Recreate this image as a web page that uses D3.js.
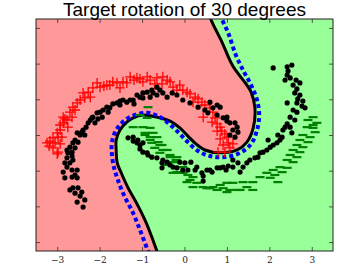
<!DOCTYPE html>
<html>
<head>
<meta charset="utf-8">
<script src="https://cdn.jsdelivr.net/npm/d3@7"></script>
<style>
  body { margin: 0; background: #fff; }
  svg { display: block; }
</style>
</head>
<body>
<svg id="chart" width="359" height="272"></svg>
<script>
// tick values
const xTicks = [-3, -2, -1, 0, 1, 2, 3];
const yTicks = [-3, -2, -1, 0, 1, 2, 3];

// source class +1 (red crosses)
const sourcePos = [
  [-3.24,-0.22],[-3.17,-0.17],[-3.10,-0.08],[-3.05,-0.22],[-3.00,0.06],[-2.93,0.14],[-2.98,-0.06],
  [-3.19,-0.31],[-3.10,-0.36],[-2.98,-0.48],[-3.00,-0.53],[-2.93,-0.25],[-2.89,-0.06],[-2.93,0.28],
  [-2.86,0.34],[-2.82,0.45],[-2.77,0.42],[-2.86,0.50],[-2.75,0.22],[-2.70,0.64],[-2.65,0.50],
  [-2.63,0.78],[-2.58,0.70],[-2.53,0.90],[-2.46,0.98],[-2.39,1.18],[-2.35,1.04],[-2.27,1.20],
  [-2.22,1.06],[-2.16,1.32],[-2.06,1.46],[-1.99,1.34],[-1.90,1.37],[-1.83,1.40],[-1.76,1.40],
  [-1.69,1.49],[-1.59,1.46],[-1.52,1.32],[-1.45,1.49],[-1.36,1.46],[-1.28,1.63],[-1.19,1.54],
  [-1.12,1.60],[-1.05,1.57],[-0.98,1.49],[-0.88,1.63],[-0.81,1.54],[-0.70,1.43],[-0.65,1.60],
  [-0.53,1.43],[-0.51,1.63],[-0.41,1.54],[-0.34,1.49],[-0.27,1.34],[-0.18,1.26],[-0.11,1.40],
  [-0.04,1.26],[0.06,1.20],[0.13,1.15],[0.20,0.92],[0.25,1.06],[0.32,1.01],[0.41,0.92],
  [0.48,0.84],[0.60,0.76],[0.67,0.64],[0.44,0.50],[0.72,0.48],[0.65,0.36],[0.77,0.31],
  [0.84,0.22],[0.88,0.11],[0.77,0.11],[0.95,0.03],[1.00,-0.06],[0.84,-0.11],[1.03,-0.22],
  [0.91,-0.28],[1.07,-0.36],[0.95,-0.48],[1.14,-0.25],[0.79,-0.48]
];

// source class -1 (green dashes)
const sourceNeg = [
  [-0.86,0.78],[-1.05,0.56],[-0.88,0.48],[-1.21,0.22],[-0.98,0.22],[-0.81,0.20],[-0.93,0.06],
  [-0.74,0.06],[-0.93,0.00],[-0.81,-0.06],[-0.65,-0.06],[-0.81,-0.14],[-0.62,-0.20],[-0.77,-0.22],
  [-0.58,-0.28],[-0.53,-0.28],[-0.70,-0.36],[-0.51,-0.42],[-0.41,-0.42],[-0.58,-0.50],[-0.34,-0.56],
  [-0.34,-0.62],[-0.18,-0.62],[-0.20,-0.70],[-0.27,-0.76],[-0.34,-0.76],[-0.04,-0.90],[-0.41,-0.84],
  [-0.27,-1.06],[-0.18,-1.04],[-0.11,-1.06],[-0.04,-1.06],[0.08,-1.12],[0.20,-1.18],[0.13,-1.26],
  [0.06,-1.32],[0.29,-1.34],[0.20,-1.46],[0.44,-1.46],[0.53,-1.49],[0.60,-1.49],[0.77,-1.54],
  [0.67,-1.46],[0.84,-1.40],[0.91,-1.49],[1.00,-1.34],[1.00,-1.60],[1.07,-1.54],[1.14,-1.34],
  [1.24,-1.54],[1.31,-1.54],[1.38,-1.32],[1.47,-1.46],[1.61,-1.32],[1.61,-1.54],[1.78,-1.18],
  [1.94,-1.06],[2.02,-1.20],[2.09,-0.98],[2.13,-1.12],[2.20,-1.32],[2.25,-0.90],[2.30,-1.04],
  [2.42,-0.92],[2.42,-0.70],[2.56,-0.76],[2.49,-0.56],[2.65,-0.62],[2.56,-0.42],[2.72,-0.48],
  [2.65,-0.28],[2.79,-0.34],[2.72,-0.14],[2.91,-0.20],[2.79,0.00],[2.96,-0.06],[3.03,0.20],
  [2.89,0.22],[3.08,0.08],[3.03,0.28],[3.12,0.34],[2.91,0.42],[3.03,0.50]
];

// target samples, rotated by 30 degrees (black dots)
const targetPts = [
  [-2.39,-2.02],[-2.53,-1.88],[-2.35,-1.82],[-2.46,-1.71],[-2.58,-1.63],[-2.42,-1.60],[-2.70,-1.54],
  [-2.63,-1.48],[-2.51,-1.48],[-2.82,-1.20],[-2.65,-1.18],[-2.53,-1.20],[-2.58,-1.12],[-2.65,-0.98],
  [-2.53,-0.98],[-2.77,-0.90],[-2.86,-1.04],[-2.82,-0.78],[-2.70,-0.78],[-2.63,-0.70],[-2.77,-0.64],
  [-2.65,-0.59],[-2.75,-0.50],[-2.77,-0.42],[-2.65,-0.48],[-2.70,-0.34],[-2.58,-0.36],[-2.63,-0.22],
  [-2.51,-0.20],[-2.58,-0.14],[-2.46,0.00],[-2.35,0.00],[-2.53,0.06],[-2.42,0.08],[-2.39,0.14],
  [-2.32,0.22],[-2.27,0.34],[-2.22,0.42],[-2.18,0.48],[-2.11,0.34],[-2.16,0.50],[-2.04,0.45],
  [-2.06,0.62],[-1.99,0.64],[-1.94,0.50],[-1.92,0.70],[-1.83,0.78],[-1.80,0.64],[-1.76,0.76],
  [-1.69,0.87],[-1.59,0.90],[-1.52,0.84],[-1.52,0.95],[-1.45,0.98],[-1.36,0.92],[-1.28,0.98],
  [-1.21,0.98],[-1.19,0.87],[-1.12,1.12],[-1.05,1.06],[-0.98,1.18],[-0.98,1.04],[-0.88,1.20],
  [-0.81,1.06],[-0.77,1.26],[-0.74,1.18],[-0.65,1.34],[-0.65,1.12],[-0.58,1.26],[-0.51,1.18],
  [-0.41,1.06],[-0.29,1.18],[-0.18,1.12],[-0.04,0.98],[0.13,0.90],[0.32,0.78],[0.48,0.70],
  [0.55,0.62],[0.67,0.76],[0.60,0.92],[0.77,0.84],[0.77,0.56],[0.84,0.78],[0.91,0.48],
  [1.00,0.50],[1.00,0.39],[1.07,0.34],[1.19,0.34],[1.24,0.22],[1.14,0.14],[1.26,0.08],
  [1.19,-0.06],[1.07,0.00],
  [-1.33,-0.08],[-1.21,-0.06],[-1.21,-0.17],[-1.12,-0.22],[-1.10,-0.14],[-1.05,-0.28],[-0.98,-0.22],
  [-1.05,-0.39],[-0.98,-0.48],[-0.88,-0.50],[-0.86,-0.56],[-0.77,-0.62],[-0.65,-0.64],[-0.53,-0.78],
  [-0.51,-0.70],[-0.53,-0.92],[-0.41,-0.76],[-0.34,-0.84],[-0.27,-0.90],[-0.18,-0.92],[-0.11,-0.76],
  [0.01,-0.78],[-0.04,-0.98],[0.08,-0.98],[0.15,-0.76],[0.25,-0.98],[0.29,-0.90],[0.41,-1.06],
  [0.44,-1.29],[0.44,-1.15],[0.53,-0.98],[0.60,-0.98],[0.65,-1.04],[0.77,-0.92],[0.84,-0.92],
  [0.91,-0.90],[0.98,-0.98],[1.03,-0.87],[1.14,-0.70],[1.14,-0.90],[1.26,-0.78],[1.31,-1.04],
  [1.38,-0.90],[1.47,-0.78],[1.54,-0.70],[1.66,-0.64],[1.73,-0.62],[1.78,-0.50],[1.85,-0.48],
  [1.94,-0.42],[1.97,-0.14],[2.02,-0.34],[2.09,-0.28],[2.18,-0.22],[2.25,-0.14],[2.30,-0.06],
  [2.32,0.14],[2.42,0.31],[2.49,0.22],[2.53,0.06],[2.20,0.00],[2.37,0.22],[2.60,0.42],
  [2.49,0.50],[2.65,0.64],[2.56,0.70],[2.42,0.90],[2.84,0.76],[2.77,0.81],[2.65,0.90],
  [2.79,0.95],[2.67,1.01],[2.72,1.12],[2.60,1.18],[2.65,1.29],[2.56,1.40],[2.72,1.46],
  [2.63,1.54],[2.37,1.54],[2.49,1.60],[2.42,1.68],[2.44,1.79],[2.53,1.96],[2.42,1.91],[2.09,1.88]
];

// decision boundary of the adapted classifier (black, solid)
const boundaryTarget = [
  [0.60,3.39],[0.62,3.25],[0.88,2.61],[1.14,1.93],[1.45,1.43],[1.57,1.20],[1.66,0.76],[1.62,0.20],
  [1.47,-0.20],[1.24,-0.42],[0.84,-0.50],[0.48,-0.42],[0.27,-0.25],[0.08,-0.03],[-0.11,0.20],
  [-0.34,0.39],[-0.65,0.50],[-0.98,0.56],[-1.21,0.48],[-1.36,0.36],[-1.52,0.14],[-1.61,-0.14],
  [-1.61,-0.42],[-1.59,-0.76],[-1.47,-1.12],[-1.33,-1.48],[-1.12,-1.93],[-0.91,-2.44],[-0.77,-2.86],
  [-0.65,-3.25],[-0.60,-3.39]
];

// decision boundary of the source classifier (blue, dashed)
const boundarySource = [
  [0.84,3.39],[0.88,3.25],[1.03,2.86],[1.21,2.24],[1.40,1.77],[1.57,1.40],[1.71,0.98],[1.76,0.56],
  [1.71,0.14],[1.57,-0.25],[1.31,-0.50],[0.95,-0.62],[0.60,-0.59],[0.32,-0.45],[0.08,-0.20],
  [-0.15,0.08],[-0.39,0.34],[-0.62,0.53],[-0.88,0.62],[-1.17,0.56],[-1.43,0.39],[-1.61,0.14],
  [-1.71,-0.20],[-1.71,-0.56],[-1.66,-0.92],[-1.57,-1.26],[-1.43,-1.68],[-1.21,-2.19],[-1.05,-2.66],
  [-0.93,-3.03],[-0.86,-3.25],[-0.81,-3.39]
];

const svg = d3.select("#chart");
const margin = { top: 19, right: 26, bottom: 21, left: 36 };
const W = 359, H = 272;
const innerW = W - margin.left - margin.right;
const innerH = H - margin.top - margin.bottom;

const x = d3.scaleLinear().domain([-3.5, 3.5]).range([0, innerW]);
const y = d3.scaleLinear().domain([-3.25, 3.25]).range([innerH, 0]);

const g = svg.append("g").attr("transform", `translate(${margin.left},${margin.top})`);

g.append("clipPath").attr("id", "clip")
  .append("rect").attr("width", innerW).attr("height", innerH);

const plot = g.append("g").attr("clip-path", "url(#clip)");

// red half (whole area), green half on top
plot.append("rect").attr("width", innerW).attr("height", innerH).attr("fill", "#ff9999");

const curveLine = d3.line().x(d => x(d[0])).y(d => y(d[1])).curve(d3.curveCatmullRom.alpha(0.5));

plot.append("path")
  .attr("d", curveLine(boundaryTarget) + `L${x(3.8)},${y(-3.5)}L${x(3.8)},${y(3.5)}Z`)
  .attr("fill", "#99ff99");

plot.append("path")
  .datum(boundaryTarget)
  .attr("fill", "none")
  .attr("stroke", "#000")
  .attr("stroke-width", 3)
  .attr("d", curveLine);

plot.append("path")
  .datum(boundarySource)
  .attr("fill", "none")
  .attr("stroke", "#0000ff")
  .attr("stroke-width", 4)
  .attr("stroke-dasharray", "4,3")
  .attr("d", curveLine);

// red crosses
plot.selectAll(".pos").data(sourcePos).join("path")
  .attr("class", "pos")
  .attr("d", d => {
    const cx = x(d[0]), cy = y(d[1]), s = 5;
    return `M${cx - s},${cy}H${cx + s}M${cx},${cy - s}V${cy + s}`;
  })
  .attr("stroke", "#ff0000")
  .attr("stroke-width", 1.3)
  .attr("fill", "none");

// green dashes
plot.selectAll(".neg").data(sourceNeg).join("path")
  .attr("class", "neg")
  .attr("d", d => {
    const cx = x(d[0]), cy = y(d[1]), s = 4.5;
    return `M${cx - s},${cy}H${cx + s}`;
  })
  .attr("stroke", "#008000")
  .attr("stroke-width", 2.2)
  .attr("fill", "none");

// target points
plot.selectAll(".tgt").data(targetPts).join("circle")
  .attr("class", "tgt")
  .attr("cx", d => x(d[0]))
  .attr("cy", d => y(d[1]))
  .attr("r", 2.6)
  .attr("fill", "#000");

// axes: ticks pointing inward on all four sides
const tickCol = "#333";
const axBottom = g.append("g").attr("transform", `translate(0,${innerH})`)
  .call(d3.axisBottom(x).tickValues(xTicks).tickSize(-4).tickPadding(6).tickFormat(d3.format("d")));
const axTop = g.append("g")
  .call(d3.axisTop(x).tickValues(xTicks).tickSize(-4).tickFormat(""));
const axLeft = g.append("g")
  .call(d3.axisLeft(y).tickValues(yTicks).tickSize(-4).tickFormat(""));
const axRight = g.append("g").attr("transform", `translate(${innerW},0)`)
  .call(d3.axisRight(y).tickValues(yTicks).tickSize(-4).tickFormat(""));

[axBottom, axTop, axLeft, axRight].forEach(a => {
  a.select(".domain").remove();
  a.selectAll(".tick line").attr("stroke", tickCol).attr("stroke-width", 0.8);
});
axBottom.selectAll(".tick text")
  .attr("fill", "#222")
  .style("font-family", "'DejaVu Serif', serif")
  .style("font-size", "9px");

g.append("rect")
  .attr("width", innerW).attr("height", innerH)
  .attr("fill", "none").attr("stroke", "#222").attr("stroke-width", 1);

svg.append("text")
  .attr("x", margin.left + innerW / 2)
  .attr("y", 15.5)
  .attr("text-anchor", "middle")
  .style("font-family", "'Liberation Sans', Arial, sans-serif")
  .style("font-size", "19px")
  .attr("fill", "#000")
  .text("Target rotation of 30 degrees");
</script>
</body>
</html>
